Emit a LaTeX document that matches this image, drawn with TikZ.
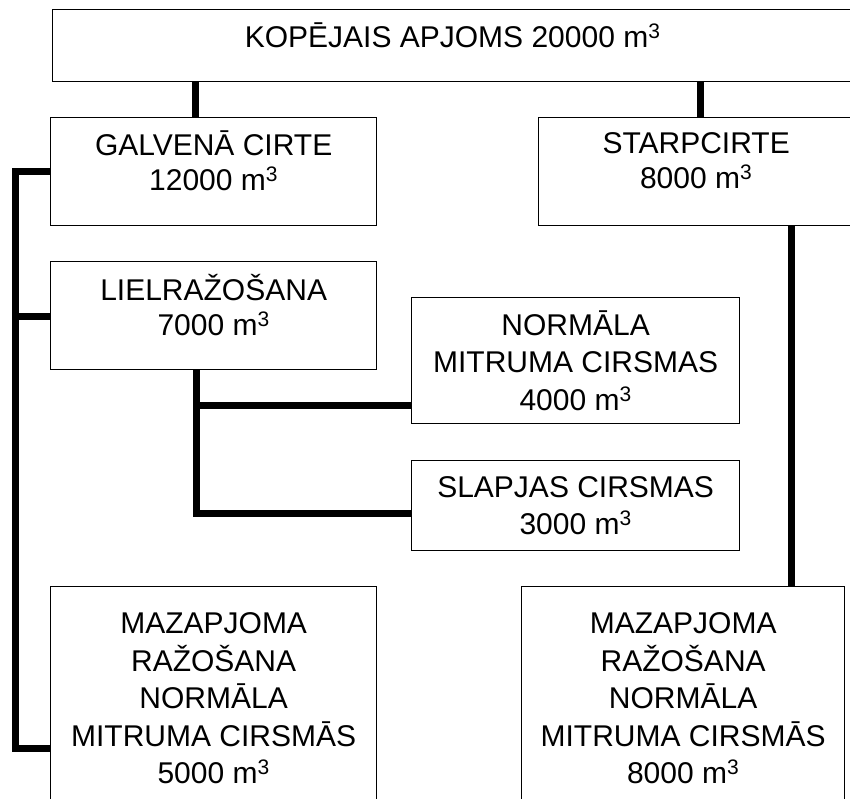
\documentclass[tikz,border=0pt]{standalone}
\usepackage{fontspec}
\setmainfont{Liberation Sans}
\begin{document}
\begin{tikzpicture}[x=1pt,y=-1pt]
\tikzset{
  box/.style={draw, line width=1.3pt, inner sep=0pt, align=center, anchor=north west,
    font={\fontsize{30}{37.5}\selectfont}},
  upper/.style={text depth=22pt, font={\fontsize{30}{35.5}\selectfont}},
  conn/.style={line width=7pt, line join=miter}
}
\useasboundingbox (0,0) rectangle (850,798);
\clip (0,0) rectangle (850,798);
\node[box, upper, minimum width=800pt, minimum height=72pt] (top) at (52,9) {KOPĒJAIS APJOMS 20000 m\textsuperscript{3}};
\node[box, upper, minimum width=326pt, minimum height=108pt] (gal) at (50,117) {GALVENĀ CIRTE\\12000 m\textsuperscript{3}};
\node[box, upper, minimum width=315pt, minimum height=108pt] (star) at (538,117) {STARPCIRTE\\8000 m\textsuperscript{3}};
\node[box, upper, minimum width=326pt, minimum height=108pt] (liel) at (50,261) {LIELRAŽOŠANA\\7000 m\textsuperscript{3}};
\node[box, minimum width=328pt, minimum height=126pt] (norm) at (411,297) {NORMĀLA\\MITRUMA CIRSMAS\\4000 m\textsuperscript{3}};
\node[box, minimum width=328pt, minimum height=90pt] (slap) at (411,460) {SLAPJAS CIRSMAS\\3000 m\textsuperscript{3}};
\node[box, minimum width=326pt, minimum height=224pt] (mazL) at (50,586) {MAZAPJOMA\\RAŽOŠANA\\NORMĀLA\\MITRUMA CIRSMĀS\\5000 m\textsuperscript{3}};
\node[box, minimum width=323pt, minimum height=224pt] (mazR) at (521,586) {MAZAPJOMA\\RAŽOŠANA\\NORMĀLA\\MITRUMA CIRSMĀS\\8000 m\textsuperscript{3}};
\coordinate (xa) at (195,0);
\coordinate (xb) at (700,0);
\coordinate (xr) at (791,0);
\coordinate (b1) at (15,171);
\coordinate (b2) at (15,748);
\coordinate (b3) at (15,316);
\coordinate (m1) at (196,405.5);
\coordinate (m2) at (196,513.5);
\draw[conn] (top.south -| xa) -- (gal.north -| xa);
\draw[conn] (top.south -| xb) -- (star.north -| xb);
\draw[conn] (star.south -| xr) -- (mazR.north -| xr);
\draw[conn] (gal.west |- b1) -- (b1) -- (b2) -- (mazL.west |- b2);
\draw[conn] (b3) -- (liel.west |- b3);
\draw[conn] (liel.south -| m1) -- (m2) -- (slap.west |- m2);
\draw[conn] (m1) -- (norm.west |- m1);
\end{tikzpicture}
\end{document}
